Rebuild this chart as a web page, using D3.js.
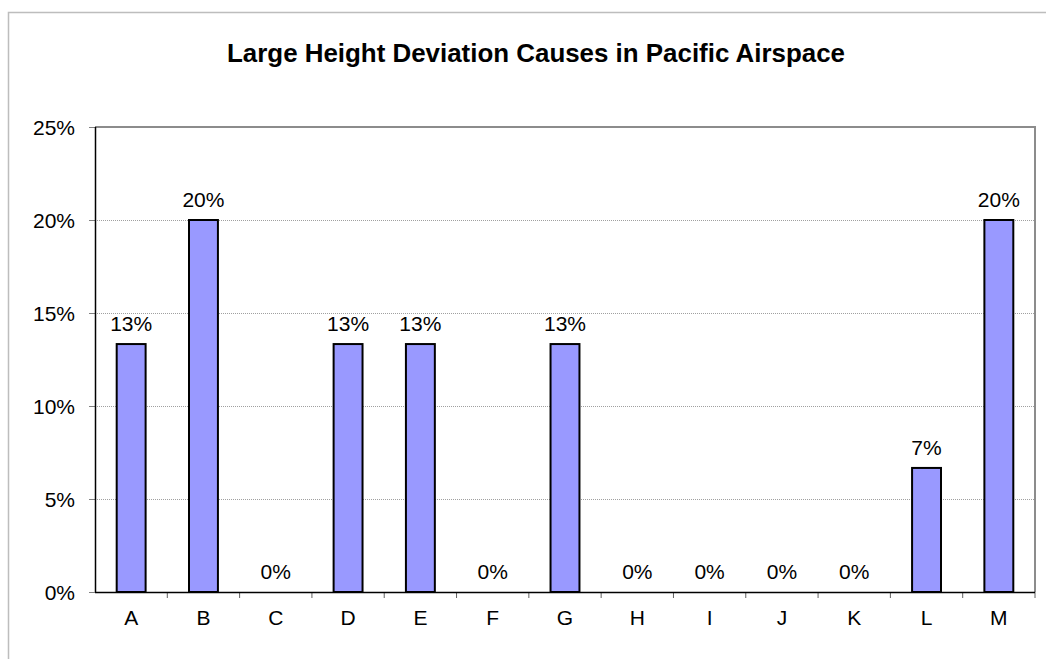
<!DOCTYPE html>
<html>
<head>
<meta charset="utf-8">
<script src="https://cdn.jsdelivr.net/npm/d3@7/dist/d3.min.js"></script>
<style>
  html, body { margin: 0; padding: 0; background: #fff; }
  svg { display: block; }
  text { font-family: "Liberation Sans", Arial, sans-serif; fill: #000; }
</style>
</head>
<body>
<svg id="chart" width="1046" height="659"></svg>
<script>
const title = "Large Height Deviation Causes in Pacific Airspace";
const categories = ["A","B","C","D","E","F","G","H","I","J","K","L","M"];
const values = [0.1333, 0.20, 0, 0.1333, 0.1333, 0, 0.1333, 0, 0, 0, 0, 0.0667, 0.20];
const yTicks = [0, 0.05, 0.10, 0.15, 0.20, 0.25];

const svg = d3.select("#chart");
const W = 1046, H = 659;
const plot = { left: 95, right: 1035, top: 127, bottom: 592 };

// outer chart border
svg.append("rect")
  .attr("x", 8.5).attr("y", 12.5)
  .attr("width", W + 10).attr("height", H + 10)
  .attr("fill", "none").attr("stroke", "#bdbdbd").attr("stroke-width", 1.5);

// title
svg.append("text")
  .attr("x", 536).attr("y", 62)
  .attr("text-anchor", "middle")
  .attr("font-size", 25).attr("font-weight", "bold")
  .attr("textLength", 618).attr("lengthAdjust", "spacingAndGlyphs")
  .text(title);

const x = d3.scaleBand().domain(categories).range([plot.left, plot.right]).padding(0);
const y = d3.scaleLinear().domain([0, 0.25]).range([plot.bottom, plot.top]);

// gridlines (dotted)
svg.append("g").selectAll("line")
  .data(yTicks.filter(t => t > 0 && t < 0.25))
  .join("line")
  .attr("x1", plot.left).attr("x2", plot.right)
  .attr("y1", d => Math.round(y(d)) + 0.5).attr("y2", d => Math.round(y(d)) + 0.5)
  .attr("stroke", "#a0a0a0").attr("stroke-width", 1)
  .attr("stroke-dasharray", "1,1");

// plot top & right border (gray)
svg.append("line")
  .attr("x1", plot.left).attr("x2", plot.right + 1)
  .attr("y1", y(0.25)).attr("y2", y(0.25))
  .attr("stroke", "#8c8c8c").attr("stroke-width", 2);
svg.append("line")
  .attr("x1", plot.right).attr("x2", plot.right)
  .attr("y1", plot.top).attr("y2", plot.bottom)
  .attr("stroke", "#8c8c8c").attr("stroke-width", 2);

// y axis
const yAxis = d3.axisLeft(y).tickValues(yTicks).tickSize(6).tickPadding(14)
  .tickFormat(d3.format(".0%"));
const gy = svg.append("g").attr("transform", `translate(${plot.left},0)`).call(yAxis);
gy.select(".domain").remove();
gy.selectAll(".tick line").attr("stroke", "#808080");
gy.selectAll(".tick text").attr("font-size", 21).attr("font-family", "Liberation Sans, Arial, sans-serif").attr("dy", "0.36em");
svg.append("line")
  .attr("x1", plot.left + 0.5).attr("x2", plot.left + 0.5)
  .attr("y1", plot.top).attr("y2", plot.bottom)
  .attr("stroke", "#000").attr("stroke-width", 1.5);

// x axis ticks at band boundaries
const xAxis = d3.axisBottom(x).tickSize(0).tickPadding(18);
const gx = svg.append("g").attr("transform", `translate(0,${plot.bottom})`).call(xAxis);
gx.select(".domain").remove();
gx.selectAll(".tick text").attr("font-size", 21).attr("font-family", "Liberation Sans, Arial, sans-serif");
svg.append("g").selectAll("line")
  .data(categories.slice(1).concat(["__end"]))
  .join("line")
  .attr("x1", d => d === "__end" ? plot.right : x(d))
  .attr("x2", d => d === "__end" ? plot.right : x(d))
  .attr("y1", plot.bottom).attr("y2", plot.bottom + 6)
  .attr("stroke", "#606060").attr("stroke-width", 1);
svg.append("line")
  .attr("x1", plot.left).attr("x2", plot.right)
  .attr("y1", plot.bottom + 0.5).attr("y2", plot.bottom + 0.5)
  .attr("stroke", "#000").attr("stroke-width", 1.5);

// bars
const barW = x.bandwidth() * 0.4;
svg.append("g").selectAll("rect")
  .data(categories.map((c, i) => ({ c, v: values[i] })).filter(d => d.v > 0))
  .join("rect")
  .attr("x", d => x(d.c) + (x.bandwidth() - barW) / 2)
  .attr("y", d => y(d.v))
  .attr("width", barW)
  .attr("height", d => y(0) - y(d.v))
  .attr("fill", "#9999ff").attr("stroke", "#000").attr("stroke-width", 2);

// value labels
svg.append("g").selectAll("text")
  .data(categories.map((c, i) => ({ c, v: values[i] })))
  .join("text")
  .attr("x", d => x(d.c) + x.bandwidth() / 2)
  .attr("y", d => y(d.v) - 13)
  .attr("text-anchor", "middle")
  .attr("font-size", 21)
  .text(d => d3.format(".0%")(d.v));
</script>
</body>
</html>
